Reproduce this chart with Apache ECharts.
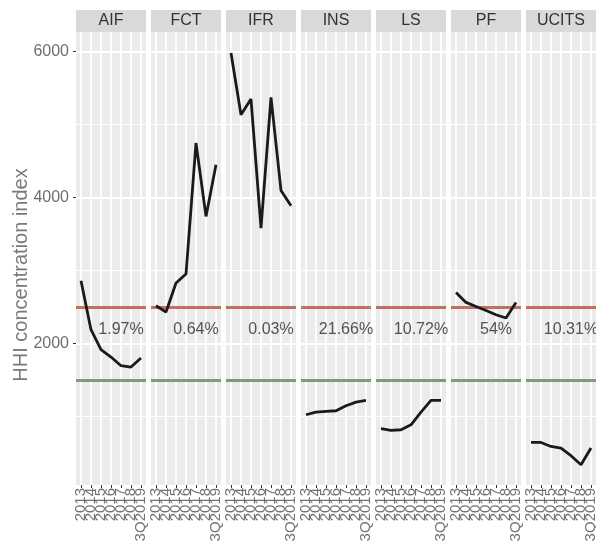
<!DOCTYPE html>
<html>
<head>
<meta charset="utf-8">
<title>HHI concentration index</title>
<script src="https://cdn.jsdelivr.net/npm/echarts@6/dist/echarts.min.js"></script>
<style>
  html, body { margin: 0; padding: 0; background: #ffffff; }
  #chart { width: 596px; height: 552px; }
</style>
</head>
<body>
<div id="chart"></div>
<script>
  // periods on every panel's x axis
  const years = ['2013', '2014', '2015', '2016', '2017', '2018', '3Q2019'];
  const panels = ['AIF', 'FCT', 'IFR', 'INS', 'LS', 'PF', 'UCITS'];

  // HHI values per fund type
  const aif = [2863, 2192, 1918, 1818, 1699, 1681, 1804];
  const fct = [2520, 2434, 2831, 2955, 4749, 3744, 4452];
  const ifr = [5982, 5137, 5352, 3585, 5374, 4100, 3890];
  const ins = [1027, 1064, 1073, 1082, 1151, 1201, 1223];
  const ls = [836, 812, 822, 890, 1064, 1223, 1223];
  const pf = [2703, 2566, 2511, 2456, 2397, 2352, 2566];
  const ucits = [648, 648, 593, 571, 466, 342, 571];

  // market share text shown in each panel
  const shares = ['1.97%', '0.64%', '0.03%', '21.66%', '10.72%', '54%', '10.31%'];
  const shareAt = ['2017', 2190];

  const yTicks = [2000, 4000, 6000];
  const yMinor = [1000, 3000, 5000];
  const highLimit = 2500;
  const lowLimit = 1500;

  const values = [aif, fct, ifr, ins, ls, pf, ucits];
  const font = '"Liberation Sans", Helvetica, Arial, sans-serif';

  const chart = echarts.init(document.getElementById('chart'));

  const grids = [];
  const xAxes = [];
  const yAxes = [];
  const series = [];
  const graphics = [];

  panels.forEach(function (name, i) {
    const left = 76 + i * 75;
    grids.push({
      left: left,
      top: 32,
      width: 70,
      height: 453,
      show: true,
      backgroundColor: '#ebebeb',
      borderWidth: 0,
      outerBoundsMode: 'none',
    });
    xAxes.push({
      type: 'category',
      gridIndex: i,
      data: years,
      boundaryGap: true,
      axisLine: { show: false },
      axisTick: {
        show: true,
        alignWithLabel: true,
        length: 3,
        lineStyle: { color: '#333333', width: 1 },
      },
      axisLabel: {
        rotate: 90,
        interval: 0,
        margin: 3,
        color: '#737373',
        fontSize: 15,
        fontFamily: font,
      },
      splitLine: { show: false },
    });
    yAxes.push({
      type: 'value',
      gridIndex: i,
      min: 65,
      max: 6270,
      axisLine: { show: false },
      splitLine: { show: false },
      axisTick: {
        show: i === 0,
        length: 3,
        customValues: yTicks,
        lineStyle: { color: '#333333', width: 1 },
      },
      axisLabel: {
        show: i === 0,
        customValues: yTicks,
        margin: 7,
        color: '#6e6e6e',
        fontSize: 16,
        fontFamily: font,
        formatter: function (v) {
          return String(v);
        },
      },
    });

    const lines = [];
    yMinor.forEach(function (v) {
      lines.push({ yAxis: v, lineStyle: { color: '#ffffff', width: 1, type: 'solid' } });
    });
    yTicks.forEach(function (v) {
      lines.push({ yAxis: v, lineStyle: { color: '#ffffff', width: 1.8, type: 'solid' } });
    });
    years.forEach(function (c) {
      lines.push({ xAxis: c, lineStyle: { color: '#ffffff', width: 1.8, type: 'solid' } });
    });
    lines.push({ yAxis: highLimit, lineStyle: { color: '#c0725e', width: 3, type: 'solid' } });
    lines.push({ yAxis: lowLimit, lineStyle: { color: '#7e9c79', width: 3, type: 'solid' } });

    series.push({
      type: 'line',
      name: name,
      xAxisIndex: i,
      yAxisIndex: i,
      data: values[i],
      symbol: 'none',
      z: 3,
      lineStyle: { color: '#1a1a1a', width: 2.8 },
      markLine: {
        silent: true,
        symbol: 'none',
        z: 1,
        animation: false,
        label: { show: false },
        data: lines,
      },
    });
    series.push({
      type: 'scatter',
      xAxisIndex: i,
      yAxisIndex: i,
      symbolSize: 0,
      z: 4,
      silent: true,
      data: [shareAt],
      label: {
        show: true,
        position: 'inside',
        formatter: shares[i],
        color: '#2b2b2b',
        fontSize: 16,
        fontFamily: font,
      },
    });

    graphics.push({
      type: 'rect',
      shape: { x: left, y: 10, width: 70, height: 22 },
      style: { fill: '#d9d9d9' },
    });
    graphics.push({
      type: 'text',
      x: left + 35,
      y: 21,
      style: {
        text: name,
        align: 'center',
        verticalAlign: 'middle',
        fontSize: 16,
        fontFamily: font,
        fill: '#333333',
      },
    });
  });

  graphics.push({
    type: 'text',
    x: 21,
    y: 275,
    rotation: Math.PI / 2,
    style: {
      text: 'HHI concentration index',
      align: 'center',
      verticalAlign: 'middle',
      fontSize: 20,
      fontFamily: font,
      fill: '#7a7a7a',
    },
  });

  chart.setOption({
    animation: false,
    grid: grids,
    xAxis: xAxes,
    yAxis: yAxes,
    series: series,
    graphic: graphics,
  });

  window.addEventListener('resize', function () {
    chart && chart.resize();
  });
</script>
</body>
</html>
